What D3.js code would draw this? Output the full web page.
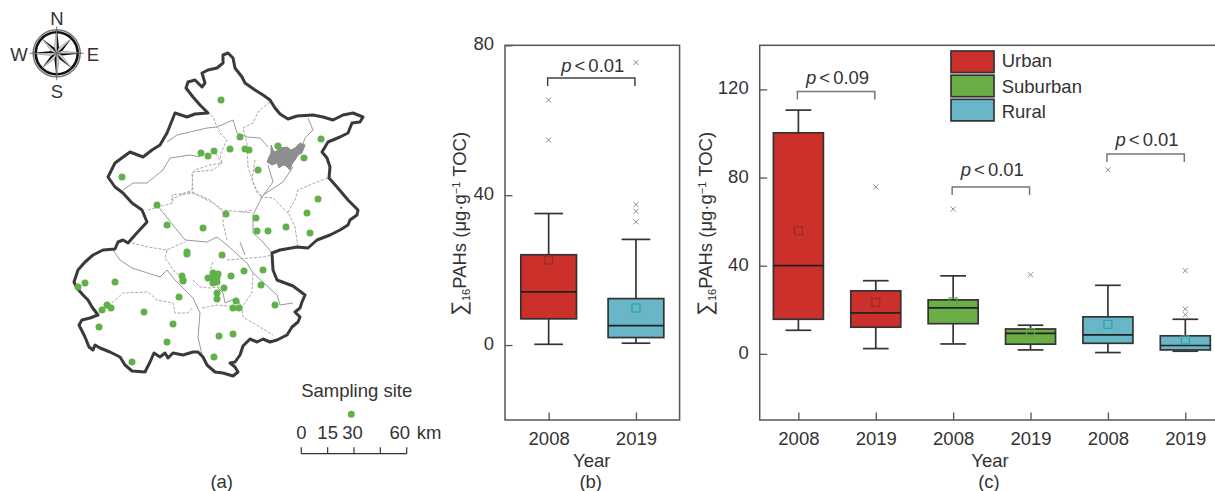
<!DOCTYPE html>
<html>
<head>
<meta charset="utf-8">
<script src="https://cdn.jsdelivr.net/npm/d3@7"></script>
<style>
  html, body { margin: 0; padding: 0; background: #fff; overflow: hidden; }
  svg { display: block; }
  text { font-family: "Liberation Sans", Arial, sans-serif; font-size: 18.5px; fill: #333; }
  .axis path { display: none; }
  .axis line { stroke: #555; stroke-width: 1.3; }
</style>
</head>
<body>
<div id="chart"></div>
<script>
// panel (b)
const yearsB = ['2008', '2019'];
const lowB = [0.2, 0.5];
const q1B = [7.0, 2.0];
const medianB = [14.2, 5.2];
const q3B = [24.1, 12.4];
const highB = [35.1, 28.2];
const meanB = [22.7, 9.9];
const outliersB = [[54.7, 65.4], [32.9, 35.7, 37.5, 75.4]];
const groupB = ['Urban', 'Rural'];

// panel (c)
const yearsC = ['2008', '2019', '2008', '2019', '2008', '2019'];
const groupC = ['Urban', 'Urban', 'Suburban', 'Suburban', 'Rural', 'Rural'];
const lowC = [10.7, 2.4, 4.5, 1.8, 0.6, 1.2];
const q1C = [15.7, 12.1, 13.7, 4.4, 4.8, 1.8];
const medianC = [40, 18.6, 20.9, 9.3, 8.6, 3.8];
const q3C = [100.3, 28.6, 24.5, 11.3, 16.8, 8.2];
const highC = [110.6, 33.2, 35.4, 13, 31.1, 15.7];
const meanC = [55.9, 23.4, 23.6, 9.6, 13.4, 6.3];
const outliersC = [[], [75.8], [65.7], [35.9], [83.5], [17.8, 20.4, 37.8]];

const legendNames = ['Urban', 'Suburban', 'Rural'];
const legendColors = ['#cb302b', '#6bae45', '#69b6c8'];
const meanColors = ['#9c2b2b', '#5fa54a', '#2f9fa8'];

// p value brackets: from, to, level, label level
const bracketsB = [{ from: 1, to: 2, level: 71.3, text: 73, label: '0.01', color: '#444' }];
const bracketsC = [
  { from: 1, to: 2, level: 119, text: 122.4, label: '0.09', color: '#777' },
  { from: 3, to: 4, level: 75.7, text: 80.5, label: '0.01', color: '#777' },
  { from: 5, to: 6, level: 90.7, text: 94.4, label: '0.01', color: '#777' }
];

// map in a grid whose origin is the map's corner
const border = [[127,77],[135,74],[148,73],[140,65],[133,57],[126,48],[128,42],[135,40],[142,47],[145,43],[142,33],[148,30],[157,28],[163,23],[163,15],[168,13],[173,18],[175,28],[182,37],[185,43],[195,50],[203,55],[210,60],[215,68],[220,74],[228,79],[237,76],[253,75],[263,77],[273,80],[283,75],[293,73],[303,77],[300,82],[292,83],[288,93],[280,97],[268,102],[262,112],[267,118],[270,127],[269,138],[277,147],[288,160],[298,170],[297,175],[290,180],[288,185],[280,190],[270,195],[257,200],[248,208],[237,207],[220,210],[212,213],[213,230],[217,240],[233,246],[245,255],[242,262],[240,268],[235,272],[240,277],[238,282],[232,287],[227,295],[217,300],[210,302],[203,299],[197,302],[190,299],[183,306],[180,315],[175,322],[170,323],[175,327],[178,332],[173,336],[163,333],[155,332],[147,325],[143,317],[138,312],[133,312],[123,315],[113,313],[108,318],[105,313],[100,317],[94,313],[90,322],[85,332],[72,331],[65,325],[60,317],[50,312],[40,308],[35,305],[33,310],[29,307],[25,297],[19,285],[22,280],[30,278],[38,275],[32,267],[28,260],[23,255],[17,248],[14,242],[18,230],[25,222],[33,215],[43,210],[55,209],[58,202],[63,200],[68,203],[75,195],[87,182],[82,170],[72,163],[63,153],[55,147],[48,137],[55,123],[70,112],[83,117],[92,110],[100,105],[107,93],[115,73]];
const rivers = [
  [[208,125],[213,142],[202,157],[193,175],[193,193],[203,202],[212,213]],
  [[233,127],[223,142],[203,155]],
  [[242,107],[245,98],[253,90],[248,78]],
  [[107,102],[117,95],[130,92],[147,88],[157,87],[173,80],[177,93],[187,97],[200,98],[208,107]],
  [[63,150],[73,143],[87,143],[103,130],[110,118],[130,115],[140,117]],
  [[97,165],[117,190],[125,200],[147,202],[157,197],[167,205],[187,223],[193,233],[217,255],[220,265],[233,263]],
  [[53,210],[60,220],[72,228],[100,237],[107,230],[115,240],[133,258],[140,273],[138,297],[142,315]],
  [[157,247],[163,253],[165,263],[177,258],[182,268]],
  [[180,202],[185,215]]
];
const districts = [
  [[147,72],[153,77],[157,87],[160,90],[157,93]],
  [[153,110],[162,123],[153,130],[133,132],[132,150],[110,160]],
  [[210,62],[198,72],[193,83],[183,88],[187,103],[188,127],[195,147],[202,157]],
  [[160,93],[167,100],[160,115],[162,123],[150,125],[135,130],[132,133],[133,153],[120,155]],
  [[133,153],[153,163],[163,170],[192,173]],
  [[268,138],[257,142],[238,150],[235,160],[228,172],[235,187],[238,207]],
  [[200,157],[213,158],[222,167],[228,173]],
  [[180,172],[193,170]],
  [[195,120],[192,140],[197,153],[202,157]],
  [[88,170],[113,163],[112,155],[132,152],[150,160],[163,172],[163,183],[167,200]],
  [[72,203],[88,207],[107,210],[125,202]],
  [[107,210],[105,218],[115,232],[122,238]],
  [[42,272],[63,253],[88,252],[97,260],[113,263],[115,273],[128,273],[133,267]],
  [[133,240],[140,247],[148,248],[160,247]],
  [[153,222],[150,230]],
  [[167,220],[203,217],[212,215]],
  [[193,233],[192,253],[182,267],[183,277],[213,295]],
  [[142,268],[157,265],[177,267]]
];
const reservoir = [[207,122],[209,117],[211,113],[211,105],[213,110],[215,112],[220,108],[227,107],[231,110],[235,108],[240,103],[245,105],[242,113],[238,115],[235,120],[232,124],[230,130],[226,126],[223,125],[219,128],[217,123],[212,125]];
const sites = [[97,165],[107,185],[143,188],[166,174],[196,178],[197,191],[208,191],[226,187],[247,173],[250,193],[127,212],[127,214],[162,215],[153,233],[158,234],[148,238],[153,238],[157,238],[153,243],[157,242],[171,236],[184,231],[203,230],[201,245],[164,248],[157,253],[157,259],[176,261],[173,268],[179,268],[215,265],[122,236],[123,240],[123,241],[119,257],[55,242],[25,243],[18,247],[47,265],[51,268],[42,270],[39,287],[84,272],[113,284],[107,302],[72,322],[159,296],[173,294],[154,317],[161,60],[180,97],[141,113],[148,116],[154,111],[170,109],[185,109],[189,110],[198,130],[218,106],[244,118],[261,99],[258,159],[62,137]];
const scaleKm = [0, 15, 30, 45, 60];
const scaleKmLabels = [0, 15, 30, 60];

const width = 1215, height = 491;
const svg = d3.select('#chart').append('svg').attr('width', width).attr('height', height);

const color = d3.scaleOrdinal(legendNames, legendColors);
const meanColor = d3.scaleOrdinal(legendNames, meanColors);

function label(x, y, str, anchor) {
  return svg.append('text').attr('x', x).attr('y', y).attr('text-anchor', anchor || 'middle').text(str);
}

function yLabel(x) {
  const t = svg.append('text').attr('transform', 'translate(' + x + ',224) rotate(-90)').attr('text-anchor', 'middle');
  t.append('tspan').style('font-size', '21px').text('∑');
  t.append('tspan').style('font-size', '11px').attr('dy', 4).text('16');
  t.append('tspan').attr('dy', -4).text('PAHs (μg·g');
  t.append('tspan').style('font-size', '11px').attr('dy', -6).text('−1');
  t.append('tspan').attr('dy', 6).text(' TOC)');
}

function drawPanel(o) {
  const x = d3.scaleLinear().domain([0.5, o.years.length + 0.5]).range(o.xRange);
  const y = d3.scaleLinear().domain(o.yDomain).range([420, 45.3]);
  const idx = d3.range(o.years.length);
  const g = svg.append('g');

  g.append('rect').attr('x', o.xRange[0]).attr('y', 45.3)
    .attr('width', o.xRange[1] - o.xRange[0]).attr('height', 374.7)
    .attr('fill', 'none').attr('stroke', '#555').attr('stroke-width', 1.5);

  const yAxis = g.append('g').attr('class', 'axis').attr('transform', 'translate(' + o.xRange[0] + ',0)')
    .call(d3.axisLeft(y).tickValues(o.yTicks).tickSize(-7.5).tickPadding(11).tickFormat(d3.format('d')));
  yAxis.selectAll('text').attr('dy', '0.24em');

  g.append('g').attr('class', 'axis').attr('transform', 'translate(0,420)')
    .call(d3.axisBottom(x).tickValues(idx.map(i => i + 1)).tickSize(-7.5).tickPadding(12)
      .tickFormat(d => o.years[d - 1]));

  const box = g.selectAll('.box').data(idx).enter().append('g').attr('class', 'box');

  box.append('line').attr('x1', i => x(i + 1)).attr('x2', i => x(i + 1))
    .attr('y1', i => y(o.low[i])).attr('y2', i => y(o.high[i]))
    .attr('stroke', '#333').attr('stroke-width', 1.7);
  [o.low, o.high].forEach(v => {
    box.append('line').attr('x1', i => x(i + 1) - o.cap / 2).attr('x2', i => x(i + 1) + o.cap / 2)
      .attr('y1', i => y(v[i])).attr('y2', i => y(v[i]))
      .attr('stroke', '#333').attr('stroke-width', 1.7);
  });
  box.append('rect').attr('x', i => x(i + 1) - o.boxWidth / 2).attr('width', o.boxWidth)
    .attr('y', i => y(o.q3[i])).attr('height', i => y(o.q1[i]) - y(o.q3[i]))
    .attr('fill', i => color(o.group[i])).attr('stroke', '#333').attr('stroke-width', 1.7);
  box.append('line').attr('x1', i => x(i + 1) - o.boxWidth / 2).attr('x2', i => x(i + 1) + o.boxWidth / 2)
    .attr('y1', i => y(o.median[i])).attr('y2', i => y(o.median[i]))
    .attr('stroke', '#222').attr('stroke-width', 1.7);
  box.append('rect').attr('x', i => x(i + 1) - 4).attr('y', i => y(o.mean[i]) - 4)
    .attr('width', 8).attr('height', 8).attr('fill', 'none')
    .attr('stroke', i => meanColor(o.group[i])).attr('stroke-width', 1.2);

  const marks = idx.flatMap(i => o.outliers[i].map(v => ({ i, v })));
  g.selectAll('.outlier').data(marks).enter().append('path').attr('class', 'outlier')
    .attr('d', d3.symbol().type(d3.symbolX).size(18))
    .attr('transform', d => 'translate(' + x(d.i + 1) + ',' + y(d.v) + ')')
    .attr('fill', 'none').attr('stroke', '#8a8a8a').attr('stroke-width', 1);

  // p brackets
  o.brackets.forEach(b => {
    const x0 = x(b.from) - 1, x1 = x(b.to) - 1, y0 = y(b.level);
    g.append('path').attr('d', d3.line()([[x0, y0 + 8], [x0, y0], [x1, y0], [x1, y0 + 8]]))
      .attr('fill', 'none').attr('stroke', b.color).attr('stroke-width', 1.5);
    const t = g.append('text').attr('x', (x0 + x1) / 2 + 1.5).attr('y', y(b.text)).attr('text-anchor', 'middle');
    t.append('tspan').style('font-style', 'italic').text('p');
    t.append('tspan').attr('dx', 3).text('<');
    t.append('tspan').attr('dx', 3).text(b.label);
  });
}

drawPanel({
  years: yearsB, group: groupB, low: lowB, q1: q1B, median: medianB, q3: q3B, high: highB,
  mean: meanB, outliers: outliersB, brackets: bracketsB,
  xRange: [505, 679.6], yDomain: [-20, 80], yTicks: [0, 40, 80], boxWidth: 55.7, cap: 28.7
});
drawPanel({
  years: yearsC, group: groupC, low: lowC, q1: q1C, median: medianC, q3: q3C, high: highC,
  mean: meanC, outliers: outliersC, brackets: bracketsC,
  xRange: [759.7, 1224], yDomain: [-30, 140], yTicks: [0, 40, 80, 120], boxWidth: 50, cap: 25.7
});

yLabel(466);
yLabel(711.7);
label(591.7, 466.7, 'Year');
label(590.7, 488, '(b)');
label(990, 466.7, 'Year');
label(989, 488, '(c)');
label(221.7, 488, '(a)');

// legend
const legendY = d3.scaleBand().domain(legendNames).range([50, 122.5]);
const legendText = d3.scalePoint().domain(legendNames).range([67.3, 118.3]);
legendNames.forEach(n => {
  svg.append('rect').attr('x', 951).attr('y', legendY(n) + 1).attr('width', 43)
    .attr('height', legendY.bandwidth() - 2.6).attr('fill', color(n)).attr('stroke', '#333').attr('stroke-width', 1.7);
  label(1001.7, legendText(n), n, 'start');
});

// map (a)
const mapX = d3.scaleLinear().domain([0, 320]).range([60, 380]);
const mapY = d3.scaleLinear().domain([0, 340]).range([40, 380]);
const mapLine = d3.line().x(d => mapX(d[0])).y(d => mapY(d[1]));
const map = svg.append('g');

map.selectAll('.district').data(districts).enter().append('path')
  .attr('d', mapLine).attr('fill', 'none').attr('stroke', '#aaa').attr('stroke-width', 1).attr('stroke-dasharray', '3,1.5');
map.selectAll('.river').data(rivers).enter().append('path')
  .attr('d', mapLine).attr('fill', 'none').attr('stroke', '#999').attr('stroke-width', 1);
map.append('path').attr('d', mapLine(reservoir) + 'Z').attr('fill', '#8e8e90').attr('stroke', '#8e8e90');
map.append('path').attr('d', mapLine(border) + 'Z').attr('fill', 'none').attr('stroke', '#3a3a3a')
  .attr('stroke-width', 3).attr('stroke-linejoin', 'round');
map.selectAll('.site').data(sites).enter().append('circle')
  .attr('cx', d => mapX(d[0])).attr('cy', d => mapY(d[1])).attr('r', 3.5).attr('fill', '#62b04a');

// scale bar and key
const kmX = d3.scaleLinear().domain([0, 60]).range([301.3, 406.7]);
label(356.7, 397, 'Sampling site');
svg.append('circle').attr('cx', 351.3).attr('cy', 414.3).attr('r', 3.5).attr('fill', '#62b04a');
scaleKmLabels.forEach(k => label(k === 30 ? kmX(k) - 1.5 : k === 60 ? kmX(k) - 7 : kmX(k), 439.3, k));
label(429, 439.3, 'km');
svg.append('path').attr('d', d3.line()([[kmX(0), 453.7], [kmX(60), 453.7]])).attr('stroke', '#333').attr('stroke-width', 1.2);
svg.selectAll('.kmtick').data(scaleKm).enter().append('line')
  .attr('x1', d => kmX(d)).attr('x2', d => kmX(d)).attr('y1', 447.3).attr('y2', 453.7)
  .attr('stroke', '#333').attr('stroke-width', 1.2);

// compass
const compass = svg.append('g').attr('transform', 'translate(56.7,53.3)');
compass.append('circle').attr('r', 23.5).attr('fill', '#fff').attr('stroke', '#777').attr('stroke-width', 1.5);
compass.append('circle').attr('r', 21).attr('fill', '#fff').attr('stroke', '#111').attr('stroke-width', 2.6);
d3.range(8).forEach(i => {
  const a = i * Math.PI / 4, long = i % 2 === 0 ? 27 : 21, side = Math.PI / 8;
  const tip = [long * Math.sin(a), -long * Math.cos(a)];
  const wing = [6 * Math.sin(a + side), -6 * Math.cos(a + side)];
  const wing2 = [6 * Math.sin(a - side), -6 * Math.cos(a - side)];
  compass.append('path').attr('d', d3.line()([[0, 0], tip, wing]) + 'Z').attr('fill', '#111');
  compass.append('path').attr('d', d3.line()([[0, 0], tip, wing2]) + 'Z').attr('fill', '#d8d8d8').attr('stroke', '#555').attr('stroke-width', 0.4);
});
label(57, 25, 'N');
label(57, 98, 'S');
label(19, 61, 'W');
label(93, 61, 'E');
</script>
</body>
</html>
